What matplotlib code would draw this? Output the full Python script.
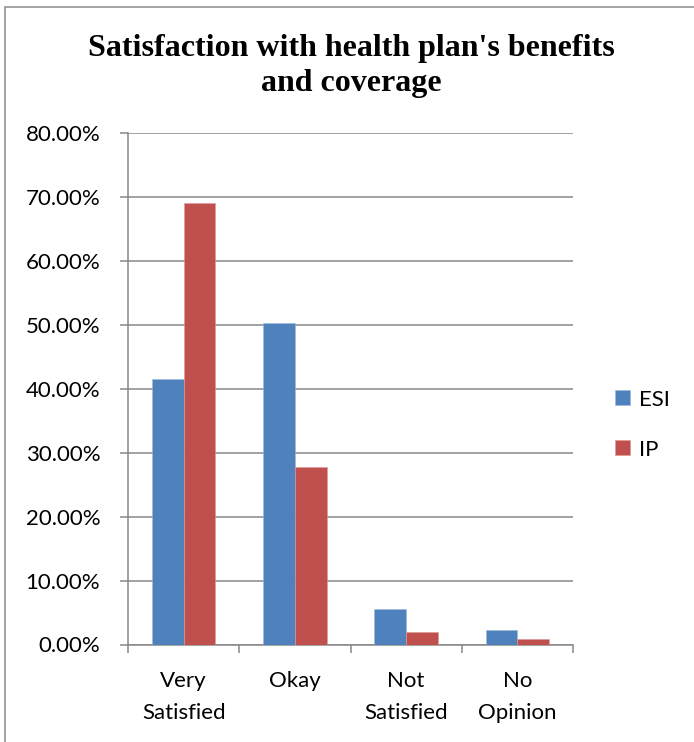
import matplotlib
matplotlib.use("Agg")
import matplotlib.pyplot as plt
from matplotlib.patches import Rectangle
from matplotlib.ticker import FixedLocator, PercentFormatter

categories = ["Very\nSatisfied", "Okay", "Not\nSatisfied", "No\nOpinion"]
esi = [41.56, 50.36, 5.5, 2.3]
ip = [69.12, 27.7, 1.95, 0.9]
series_names = ["ESI", "IP"]
yticks = [0, 10, 20, 30, 40, 50, 60, 70, 80]

BLUE = "#4F81BD"
RED = "#C0504D"
GRID = "#878787"
TICK_FONT = "Lato"
FS = 16

fig = plt.figure(figsize=(6.94, 7.42), dpi=100)
fig.patch.set_facecolor("white")

# outer chart frame (runs past the right and bottom edges)
fig.patches.append(Rectangle((4.5 / 694, -0.05), 1.2, (742 - 6.5) / 742 + 0.05,
                             transform=fig.transFigure, fill=False,
                             edgecolor="#8c8c8c", linewidth=1.1))

ax = fig.add_axes([128 / 694, (742 - 644.5) / 742, 445 / 694, (644.5 - 133) / 742])

x = list(range(len(categories)))
w = 0.285
ax.bar([i - w / 2 for i in x], esi, width=w, color=BLUE, label=series_names[0],
       edgecolor="#9db8dc", linewidth=0.4, zorder=3)
ax.bar([i + w / 2 for i in x], ip, width=w, color=RED, label=series_names[1],
       edgecolor="#dc9896", linewidth=0.4, zorder=3)

ax.set_xlim(-0.5, len(categories) - 0.5)
ax.set_ylim(0, 80)
ax.set_yticks(yticks)
ax.yaxis.set_major_formatter(PercentFormatter(decimals=2))
ax.yaxis.grid(True, color=GRID, linewidth=1.1, zorder=0)
ax.set_axisbelow(True)

ax.set_xticks(x)
ax.set_xticklabels(categories, fontsize=FS, family=TICK_FONT, linespacing=1.75)
ax.xaxis.set_minor_locator(FixedLocator([i - 0.5 for i in range(len(categories) + 1)]))
ax.tick_params(axis="x", which="major", length=0, pad=19)
ax.tick_params(axis="x", which="minor", length=6, width=1.1, color=GRID)
ax.tick_params(axis="y", length=6, width=1.1, color=GRID, pad=14)
for lab in ax.get_yticklabels():
    lab.set_fontsize(FS)
    lab.set_family(TICK_FONT)

for s in ["top", "right"]:
    ax.spines[s].set_visible(False)
for s in ["left", "bottom"]:
    ax.spines[s].set_color(GRID)
    ax.spines[s].set_linewidth(1.1)

fig.text(351 / 694, 1 - 66 / 742, "Satisfaction with health plan's benefits\nand coverage",
         ha="center", va="center", fontsize=23, fontweight="bold",
         family="Liberation Serif", linespacing=1.27)

leg = ax.legend(loc="center left", bbox_to_anchor=(1.05, 0.43), frameon=False,
                prop={"family": TICK_FONT, "size": FS}, handlelength=0.65,
                handleheight=0.65, handletextpad=0.4, labelspacing=1.35)

fig.savefig("out.png", dpi=100)
